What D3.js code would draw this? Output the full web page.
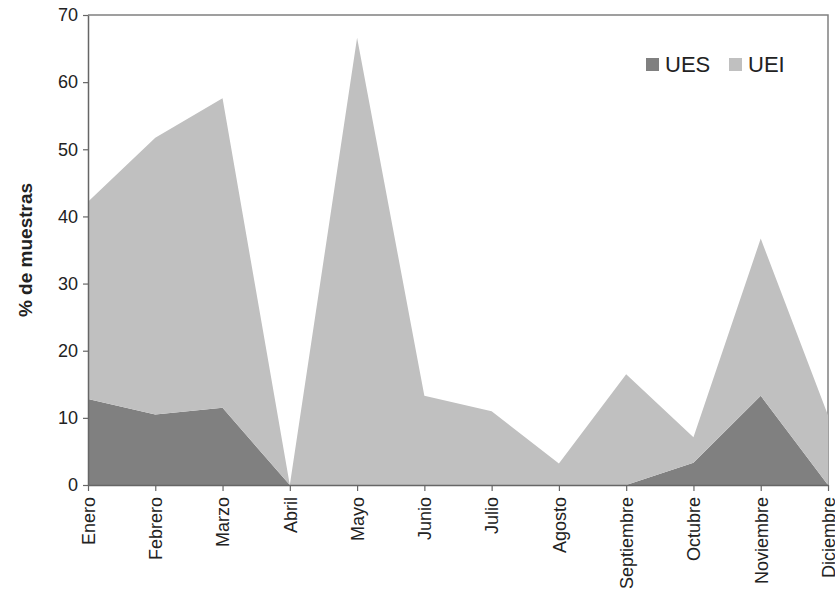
<!DOCTYPE html>
<html>
<head>
<meta charset="utf-8">
<script src="https://cdn.jsdelivr.net/npm/d3@7"></script>
<style>
  body { margin: 0; background: #fff; }
  svg { font-family: Arial, "Liberation Sans", sans-serif; }
</style>
</head>
<body>
<div id="chart"></div>
<script>
// Months on the x axis
const months = ["Enero", "Febrero", "Marzo", "Abril", "Mayo", "Junio", "Julio",
    "Agosto", "Septiembre", "Octubre", "Noviembre", "Diciembre"];

// Stacked series (% de muestras)
const uesValues = [12.8, 10.5, 11.5, 0, 0, 0, 0, 0, 0, 3.3, 13.3, 0];
const ueiValues = [29.4, 41.2, 46.1, 0, 66.6, 13.3, 11.0, 3.2, 16.5, 3.8, 23.4, 10.4];

const seriesNames = ["UES", "UEI"];
const seriesColors = ["#808080", "#c0c0c0"];
const yTicks = [0, 10, 20, 30, 40, 50, 60, 70];

const rows = months.map((m, i) => ({month: m, UES: uesValues[i], UEI: ueiValues[i]}));

const dimensions = {
    width: 835,
    height: 595,
    margin: {top: 15, right: 7, bottom: 110, left: 88},
};
dimensions.boundedWidth = dimensions.width - dimensions.margin.left - dimensions.margin.right;
dimensions.boundedHeight = dimensions.height - dimensions.margin.top - dimensions.margin.bottom;

const wrapper = d3.select("#chart")
    .append("svg")
    .attr("width", dimensions.width)
    .attr("height", dimensions.height);

const bounds = wrapper.append("g")
    .attr("transform", `translate(${dimensions.margin.left},${dimensions.margin.top})`);

const xScale = d3.scalePoint()
    .domain(months)
    .range([0, dimensions.boundedWidth]);

const yScale = d3.scaleLinear()
    .domain([0, 70])
    .range([dimensions.boundedHeight, 0]);

// Plot frame (top and right), drawn under the areas
bounds.append("path")
    .attr("d", `M0,0H${dimensions.boundedWidth}V${dimensions.boundedHeight}`)
    .attr("fill", "none")
    .attr("stroke", "#808080")
    .attr("stroke-width", 1.5);

const stacked = d3.stack().keys(seriesNames)(rows);

const area = d3.area()
    .x(d => xScale(d.data.month))
    .y0(d => yScale(d[0]))
    .y1(d => yScale(d[1]));

bounds.selectAll(".layer")
    .data(stacked)
    .join("path")
    .attr("class", "layer")
    .attr("d", area)
    .attr("fill", (d, i) => seriesColors[i]);

// y axis
const yAxis = bounds.append("g")
    .call(d3.axisLeft(yScale).tickValues(yTicks).tickSize(5).tickSizeOuter(0).tickPadding(5));
yAxis.select(".domain").attr("stroke", "#666").attr("stroke-width", 1.5);
yAxis.selectAll(".tick line").attr("stroke", "#666").attr("stroke-width", 1.2);
yAxis.selectAll(".tick text").attr("font-size", 18).attr("fill", "#222");

// x axis
const xAxis = bounds.append("g")
    .attr("transform", `translate(0,${dimensions.boundedHeight})`)
    .call(d3.axisBottom(xScale).tickSize(6).tickSizeOuter(0).tickPadding(6));
xAxis.select(".domain").attr("stroke", "#666").attr("stroke-width", 1.5);
xAxis.selectAll(".tick line").attr("stroke", "#666").attr("stroke-width", 1.2);
xAxis.selectAll(".tick text")
    .attr("font-size", 18)
    .attr("fill", "#222")
    .attr("transform", "rotate(-90)")
    .attr("text-anchor", "end")
    .attr("x", -12)
    .attr("y", 0)
    .attr("dy", "0.35em");

// y axis title
wrapper.append("text")
    .attr("transform", `translate(32,${dimensions.margin.top + dimensions.boundedHeight / 2}) rotate(-90)`)
    .attr("text-anchor", "middle")
    .attr("font-size", 19)
    .attr("font-weight", "bold")
    .attr("fill", "#222")
    .text("% de muestras");

// legend
const legend = wrapper.append("g")
    .attr("transform", "translate(646,58)");
const legendOffsets = [0, 83];
seriesNames.forEach((name, i) => {
    const g = legend.append("g").attr("transform", `translate(${legendOffsets[i]},0)`);
    g.append("rect")
        .attr("width", 13)
        .attr("height", 13)
        .attr("fill", seriesColors[i]);
    g.append("text")
        .attr("x", 19)
        .attr("y", 14)
        .attr("font-size", 22)
        .attr("fill", "#222")
        .text(name);
});
</script>
</body>
</html>
